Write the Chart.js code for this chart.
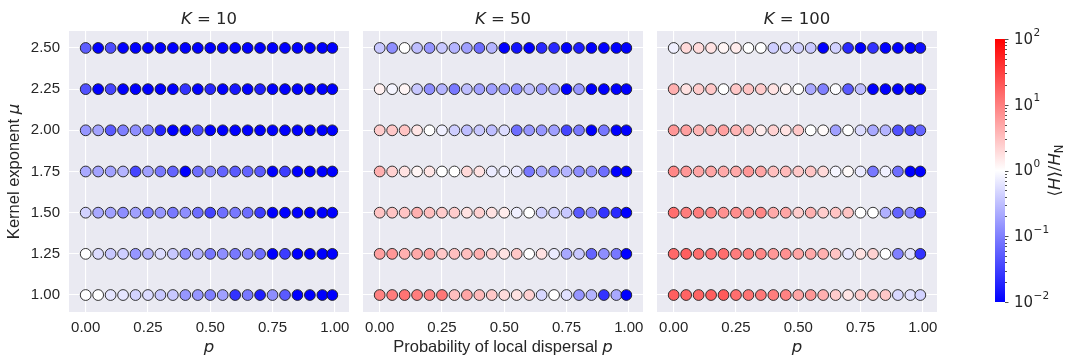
<!DOCTYPE html>
<html>
<head>
<meta charset="utf-8">
<script src="https://cdn.jsdelivr.net/npm/chart.js@4.4.1/dist/chart.umd.min.js"></script>
<style>
  html, body { margin: 0; padding: 0; background: #ffffff; }
  #wrap { position: relative; width: 1070px; height: 360px; }
  #wrap canvas { position: absolute; left: 0; top: 0; }
</style>
</head>
<body>
<div id="wrap">
  <canvas id="k10" width="1070" height="360"></canvas>
  <canvas id="k50" width="1070" height="360"></canvas>
  <canvas id="k100" width="1070" height="360"></canvas>
  <canvas id="cbar" width="1070" height="360"></canvas>
</div>
<script>
// Probability of local dispersal (columns) and kernel exponent (rows)
const pValues = [0.00, 0.05, 0.10, 0.15, 0.20, 0.25, 0.30, 0.35, 0.40, 0.45, 0.50,
                 0.55, 0.60, 0.65, 0.70, 0.75, 0.80, 0.85, 0.90, 0.95, 0.99];
const muValues = [1.00, 1.25, 1.50, 1.75, 2.00, 2.25, 2.50];
const kValues = [10, 50, 100];

// <H>/H_N, one row per kernel exponent (mu = 1.00 ... 2.50), one entry per p
const ratioK10 = [
  [1.0, 1.0, 0.63, 0.63, 0.44, 0.53, 0.37, 0.37, 0.15, 0.15, 0.10, 0.18, 0.025, 0.087, 0.017, 0.13, 0.051, 0.01, 0.01, 0.01, 0.01],
  [1.0, 0.53, 0.37, 0.41, 0.15, 0.26, 0.53, 0.37, 0.13, 0.26, 0.087, 0.13, 0.087, 0.13, 0.073, 0.01, 0.03, 0.01, 0.01, 0.01, 0.01],
  [0.44, 0.21, 0.18, 0.13, 0.18, 0.10, 0.15, 0.087, 0.13, 0.073, 0.035, 0.073, 0.087, 0.073, 0.03, 0.01, 0.01, 0.01, 0.01, 0.01, 0.01],
  [0.21, 0.19, 0.18, 0.26, 0.035, 0.18, 0.087, 0.061, 0.01, 0.073, 0.10, 0.061, 0.051, 0.061, 0.051, 0.01, 0.03, 0.01, 0.01, 0.01, 0.01],
  [0.15, 0.19, 0.051, 0.10, 0.13, 0.087, 0.019, 0.01, 0.01, 0.035, 0.01, 0.01, 0.01, 0.01, 0.01, 0.01, 0.01, 0.01, 0.01, 0.01, 0.01],
  [0.043, 0.01, 0.035, 0.01, 0.01, 0.01, 0.01, 0.01, 0.025, 0.01, 0.02, 0.01, 0.015, 0.01, 0.017, 0.01, 0.01, 0.01, 0.01, 0.01, 0.01],
  [0.055, 0.01, 0.04, 0.01, 0.01, 0.01, 0.01, 0.01, 0.01, 0.01, 0.01, 0.01, 0.01, 0.01, 0.01, 0.01, 0.01, 0.01, 0.01, 0.01, 0.01]
];
const ratioK50 = [
  [9.5, 10.5, 12.6, 10.5, 9.5, 11.4, 3.2, 5.1, 3.5, 2.7, 1.9, 1.7, 2.3, 0.49, 1.0, 0.58, 0.15, 0.26, 0.025, 0.21, 0.01],
  [5.6, 6.6, 4.2, 4.7, 5.6, 2.7, 3.2, 3.2, 4.2, 2.3, 1.7, 2.7, 1.0, 1.7, 0.70, 0.21, 0.37, 0.061, 0.13, 0.087, 0.01],
  [2.9, 2.9, 2.9, 4.2, 3.2, 2.5, 2.5, 1.7, 2.3, 1.7, 1.4, 0.76, 1.0, 0.41, 0.44, 0.37, 0.051, 0.13, 0.025, 0.021, 0.01],
  [4.2, 2.3, 1.7, 1.2, 1.6, 1.0, 1.0, 2.0, 1.7, 0.70, 0.76, 0.70, 0.087, 0.21, 0.15, 0.26, 0.13, 0.15, 0.073, 0.01, 0.01],
  [2.5, 2.7, 2.9, 1.6, 1.0, 0.76, 0.41, 0.31, 0.37, 0.31, 0.53, 0.073, 0.15, 0.15, 0.18, 0.035, 0.087, 0.01, 0.087, 0.01, 0.01],
  [1.3, 0.83, 1.2, 0.37, 0.13, 0.26, 0.087, 0.31, 0.18, 0.18, 0.18, 0.13, 0.31, 0.18, 0.21, 0.01, 0.15, 0.01, 0.01, 0.01, 0.01],
  [0.37, 0.13, 1.0, 0.31, 0.15, 0.37, 0.26, 0.18, 0.073, 0.26, 0.01, 0.014, 0.01, 0.021, 0.021, 0.01, 0.017, 0.01, 0.01, 0.01, 0.01]
];
const ratioK100 = [
  [18, 16.5, 16.5, 18, 19.7, 13.7, 12.6, 11.4, 10.5, 9.5, 5.1, 6.6, 4.2, 2.5, 1.6, 2.5, 2.7, 2.7, 0.49, 0.58, 0.44],
  [15, 18, 13.7, 12.6, 13.7, 10.5, 10.5, 8.7, 6.6, 7.3, 5.1, 4.7, 4.2, 2.9, 0.66, 1.7, 2.3, 1.0, 0.10, 0.58, 0.025],
  [13.7, 10.5, 10.5, 8.7, 7.3, 7.9, 6.6, 8.7, 4.7, 5.1, 2.5, 4.2, 2.5, 2.9, 2.9, 1.0, 1.0, 0.24, 0.061, 0.13, 0.021],
  [8.7, 6.6, 5.1, 5.1, 4.7, 4.7, 6.6, 5.1, 3.2, 3.5, 2.7, 2.9, 2.0, 0.83, 1.1, 0.70, 0.087, 0.76, 0.073, 0.01, 0.01],
  [6.6, 5.6, 3.9, 3.9, 5.6, 3.9, 3.2, 1.4, 2.3, 1.7, 2.7, 1.0, 1.1, 0.18, 1.0, 0.53, 0.21, 0.26, 0.043, 0.035, 0.061],
  [4.2, 1.7, 2.5, 2.7, 1.0, 2.7, 2.9, 2.5, 1.7, 1.2, 1.0, 0.21, 0.10, 0.95, 0.051, 0.31, 0.01, 0.01, 0.01, 0.01, 0.01],
  [0.76, 2.0, 1.9, 1.7, 1.2, 1.4, 1.0, 1.0, 0.41, 0.49, 0.44, 0.37, 0.01, 0.44, 0.021, 0.01, 0.025, 0.01, 0.01, 0.01, 0.013]
];

// colour scale limits and the decades labelled on the colour bar
const colorbarRange = [0.01, 100];
const colorbarExponents = [-2, -1, 0, 1, 2];

const TEXT = '#262626';
const SANS = '"Liberation Sans", Arial, sans-serif';
const MATH = '"DejaVu Sans", sans-serif';
const PANEL_BG = '#eaeaf2';

// diverging blue-white-red map on a log10 norm
function bwrColor(v) {
  const lo = Math.log10(colorbarRange[0]), hi = Math.log10(colorbarRange[1]);
  const n = Math.min(1, Math.max(0, (Math.log10(v) - lo) / (hi - lo)));
  let r, g, b;
  if (n < 0.5) { const t = n * 2; r = g = Math.round(255 * t); b = 255; }
  else { const t = (1 - n) * 2; r = 255; g = b = Math.round(255 * t); }
  return `rgb(${r},${g},${b})`;
}

// draws a run of differently styled pieces as one line of text
function drawRich(ctx, parts, x, y, align) {
  let total = 0;
  parts.forEach(p => { ctx.font = p.font; p.w = ctx.measureText(p.text).width; total += p.w; });
  let cx = align === 'center' ? x - total / 2 : (align === 'right' ? x - total : x);
  parts.forEach(p => {
    ctx.font = p.font;
    ctx.fillText(p.text, cx, y + (p.dy || 0));
    cx += p.w;
  });
}

const panelBackground = {
  id: 'panelBackground',
  beforeDraw(chart) {
    const { ctx, chartArea: a } = chart;
    ctx.save();
    ctx.fillStyle = PANEL_BG;
    ctx.fillRect(a.left, a.top, a.right - a.left, a.bottom - a.top);
    ctx.restore();
  }
};

const panelText = {
  id: 'panelText',
  afterDraw(chart, args, opts) {
    const { ctx, chartArea: a } = chart;
    const cx = (a.left + a.right) / 2;
    ctx.save();
    ctx.fillStyle = TEXT;
    ctx.textBaseline = 'alphabetic';
    drawRich(ctx, [
      { text: 'K', font: `italic 16.5px ${MATH}` },
      { text: ' = ' + opts.k, font: `16.5px ${MATH}` }
    ], cx, 24, 'center');
    const xParts = [];
    if (opts.longLabel) xParts.push({ text: 'Probability of local dispersal ', font: `16.5px ${SANS}` });
    xParts.push({ text: 'p', font: `italic 16.5px ${MATH}` });
    drawRich(ctx, xParts, cx, 352, 'center');
    if (opts.yLabel) {
      ctx.translate(19, (a.top + a.bottom) / 2);
      ctx.rotate(-Math.PI / 2);
      drawRich(ctx, [
        { text: 'Kernel exponent ', font: `16.5px ${SANS}` },
        { text: 'μ', font: `italic 16.5px ${MATH}` }
      ], 0, 0, 'center');
    }
    ctx.restore();
  }
};

const PANEL_W = 280, PANEL_TOP = 31, PANEL_BOTTOM = 312;
const Y_AXIS_W = 44;

function makePanel(canvasId, k, ratios, left, first, longLabel) {
  const datasets = muValues.map((mu, i) => ({
    data: pValues.map(p => ({ x: p, y: mu })),
    pointBackgroundColor: ratios[i].map(bwrColor),
    pointBorderColor: '#1e1e1e',
    pointBorderWidth: 0.9,
    pointRadius: 5.4,
    pointHoverRadius: 5.4
  }));
  const yW = first ? Y_AXIS_W : 0;
  return new Chart(document.getElementById(canvasId), {
    type: 'scatter',
    data: { datasets },
    options: {
      responsive: false,
      animation: false,
      events: [],
      layout: { padding: { left: left - yW, right: 1070 - left - PANEL_W, top: PANEL_TOP, bottom: 0 } },
      plugins: { legend: { display: false }, tooltip: { enabled: false }, panelText: { k, yLabel: first, longLabel } },
      scales: {
        x: {
          type: 'linear', min: -0.067, max: 1.057,
          border: { display: false },
          grid: { color: '#ffffff', lineWidth: 1.1, drawTicks: false },
          ticks: { stepSize: 0.25, includeBounds: false, padding: 7, color: TEXT,
                   font: { family: SANS, size: 15 }, maxRotation: 0,
                   callback: v => v.toFixed(2) },
          afterFit: s => { s.height = 360 - PANEL_BOTTOM; }
        },
        y: {
          type: 'linear', min: 0.897, max: 2.603,
          border: { display: false },
          grid: { color: '#ffffff', lineWidth: 1.1, drawTicks: false },
          ticks: { display: first, stepSize: 0.25, includeBounds: false, padding: 9, color: TEXT,
                   font: { family: SANS, size: 15 }, callback: v => v.toFixed(2) },
          afterFit: s => { s.width = yW; }
        }
      }
    },
    plugins: [panelBackground, panelText]
  });
}

makePanel('k10', kValues[0], ratioK10, 69, true, false);
makePanel('k50', kValues[1], ratioK50, 363, false, true);
makePanel('k100', kValues[2], ratioK100, 657, false, false);

// colour bar: one floating bar spanning the whole log range
const CB_LEFT = 995, CB_RIGHT = 1005, CB_TOP = 39, CB_BOTTOM = 302;

const colorbarDecor = {
  id: 'colorbarDecor',
  afterDraw(chart) {
    const { ctx, chartArea: a } = chart;
    const s = chart.scales.y;
    ctx.save();
    ctx.strokeStyle = TEXT;
    ctx.lineWidth = 0.8;
    colorbarExponents.forEach(e => {
      for (let m = 1; m <= 9; m++) {
        const v = m * Math.pow(10, e);
        if (v > colorbarRange[1] * 1.0001) break;
        const y = Math.round(s.getPixelForValue(v)) + 0.5;
        const len = m === 1 ? 3.5 : 2;
        ctx.beginPath();
        ctx.moveTo(a.right, y);
        ctx.lineTo(a.right + len, y);
        ctx.stroke();
      }
    });
    ctx.fillStyle = TEXT;
    ctx.textBaseline = 'middle';
    ctx.textAlign = 'left';
    colorbarExponents.forEach(e => {
      const y = s.getPixelForValue(Math.pow(10, e));
      ctx.font = `15px ${MATH}`;
      ctx.fillText('10', a.right + 9, y + 1);
      const w = ctx.measureText('10').width;
      ctx.font = `10.5px ${MATH}`;
      ctx.fillText(e < 0 ? '\u2212' + (-e) : String(e), a.right + 9 + w + 0.5, y - 6);
    });
    // axis label, reading bottom to top
    ctx.translate(1056, (a.top + a.bottom) / 2);
    ctx.rotate(-Math.PI / 2);
    ctx.textBaseline = 'middle';
    drawRich(ctx, [
      { text: '\u27E8', font: `16.5px ${MATH}` },
      { text: 'H', font: `italic 16.5px ${MATH}` },
      { text: '\u27E9/', font: `16.5px ${MATH}` },
      { text: 'H', font: `italic 16.5px ${MATH}` },
      { text: 'N', font: `11.5px ${MATH}`, dy: 4 }
    ], 0, 0, 'center');
    ctx.restore();
  }
};

new Chart(document.getElementById('cbar'), {
  type: 'bar',
  data: {
    labels: ['<H>/H_N'],
    datasets: [{
      data: [colorbarRange],
      borderWidth: 0,
      barPercentage: 1,
      categoryPercentage: 1,
      backgroundColor(c) {
        const area = c.chart.chartArea;
        if (!area) return '#ffffff';
        const g = c.chart.ctx.createLinearGradient(0, area.bottom, 0, area.top);
        g.addColorStop(0, 'rgb(0,0,255)');
        g.addColorStop(0.5, 'rgb(255,255,255)');
        g.addColorStop(1, 'rgb(255,0,0)');
        return g;
      }
    }]
  },
  options: {
    responsive: false,
    animation: false,
    events: [],
    layout: { padding: { left: CB_LEFT, right: 1070 - CB_RIGHT, top: CB_TOP, bottom: 360 - CB_BOTTOM } },
    plugins: { legend: { display: false }, tooltip: { enabled: false } },
    scales: {
      x: { display: false },
      y: {
        type: 'logarithmic', min: colorbarRange[0], max: colorbarRange[1],
        position: 'right',
        border: { display: false },
        grid: { display: false },
        ticks: { display: false },
        afterFit: s => { s.width = 0; }
      }
    }
  },
  plugins: [colorbarDecor]
});
</script>
</body>
</html>
